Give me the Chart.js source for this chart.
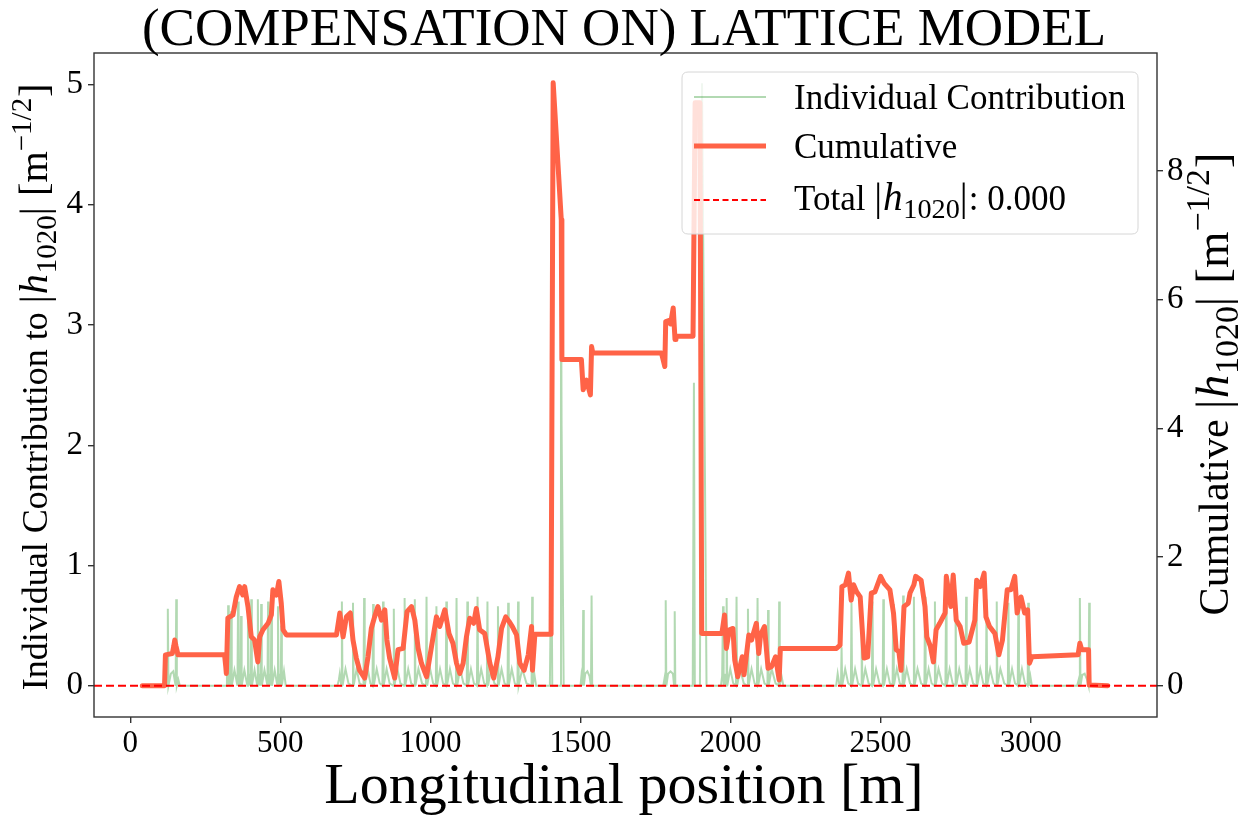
<!DOCTYPE html>
<html><head><meta charset="utf-8">
<script src="https://cdn.jsdelivr.net/npm/chart.js@4.4.0/dist/chart.umd.min.js"></script>
<style>html,body{margin:0;padding:0;background:#fff;overflow:hidden}</style>
</head><body>
<canvas id="c" width="1238" height="815"></canvas>
<script>
const titleText = '(COMPENSATION ON) LATTICE MODEL';
const xLabelText = 'Longitudinal position [m]';
const xTicks = [0, 500, 1000, 1500, 2000, 2500, 3000];
const yLeftTicks = [0, 1, 2, 3, 4, 5];
const yRightTicks = [0, 2, 4, 6, 8];
const totalH = 0.000;

// Individual contribution (left axis)
const indivS = [
40,118,120,123,125,127,135,143,151,153,155,160,165,
320,322,324,326,328,331,334,336,338,347,357,359,361,364,367,369,371,380,390,392,394,398,401,403,405,414,423,425,427,431,434,436,438,447,457,459,461,465,468,470,472,481,490,492,494,498,501,503,505,512,518,
690,695,698,703,705,707,717,727,740,742,744,754,764,777,779,781,791,800,807,809,811,821,831,840,842,844,854,864,876,878,880,890,900,912,914,916,926,936,946,948,950,960,972,985,987,989,999,1009,1018,1020,1022,1032,1042,1051,1053,1055,1065,1075,1085,1087,1089,1099,1110,1121,1123,1125,1135,1145,1155,1157,1159,1169,1179,1188,1190,1192,1202,1213,1223,1225,1227,1237,1247,1257,1259,1261,1271,1281,1290,1292,1294,1306,1320,1337,1339,1341,1346,1352,
1398,1403,1406,1432,1435,1437,1444,1500,1503,1507,1509,1511,1516,1523,1530,1535,1537,1539,1545,
1776,1780,1782,1784,1786,1792,1800,1808,1812,1814,1816,1822,1874,1878,1881,1898,1905,1920,
1968,1972,1975,1977,1983,1985,1987,1989,1999,2009,2018,2020,2022,2032,2044,2056,2058,2060,2070,2080,2088,2090,2092,2102,2113,2123,2125,2127,2137,2150,2160,2162,2164,2170,2176,
2352,2357,2362,2368,2370,2372,2382,2392,2401,2403,2405,2415,2425,2435,2437,2439,2449,2460,2471,2473,2475,2485,2496,2507,2509,2511,2521,2531,2540,2542,2544,2554,2564,2573,2575,2577,2587,2598,2609,2611,2613,2623,2635,2646,2648,2650,2660,2670,2679,2681,2683,2693,2705,2716,2718,2720,2730,2740,2748,2750,2752,2762,2773,2783,2785,2787,2797,2808,2818,2820,2822,2832,2842,2851,2853,2855,2865,2876,2885,2887,2889,2899,2912,2924,2926,2928,2938,2948,2957,2959,2961,2971,2981,2990,2992,2994,2999,3004,
3155,3160,3162,3164,3166,3172,3180,3188,3193,3195,3197,3205,3257
];
const indivVal = [
0,0,0.10,0,0.64,0,0.10,0.12,0,0.72,0,0.05,0,
0,0.10,0,0.67,0,0.10,0,0.62,0,0.13,0,0.70,0,0.10,0,0.58,0,0.13,0,0.74,0,0.10,0,0.72,0,0.13,0,0.72,0,0.10,0,0.68,0,0.13,0,0.70,0,0.10,0,0.66,0,0.13,0,0.66,0,0.10,0,0.50,0,0.12,0,
0,0.05,0.10,0,0.70,0,0.14,0.02,0,0.69,0,0.14,0.02,0,0.73,0,0.14,0.02,0,0.68,0,0.14,0.02,0,0.70,0,0.14,0.02,0,0.64,0,0.14,0.02,0,0.73,0,0.14,0.02,0,0.72,0,0.14,0.02,0,0.74,0,0.14,0.02,0,0.66,0,0.14,0.02,0,0.70,0,0.14,0.02,0,0.73,0,0.14,0.02,0,0.70,0,0.14,0.02,0,0.74,0,0.14,0.02,0,0.70,0,0.14,0.02,0,0.66,0,0.14,0.02,0,0.69,0,0.14,0.02,0,0.70,0,0.14,0.02,0,0.74,0,0.10,0,
0,1.20,0,0,3.80,2.17,0,0,0.08,0,0.63,0,0.10,0.12,0.08,0,0.75,0,0,
0,0.06,0,0.71,0,0.10,0.12,0.10,0,0.62,0,0,0,2.52,0,0,5.01,0,
0,0.08,0.66,0,0.10,0,0.73,0,0.14,0.02,0,0.74,0,0.14,0.02,0,0.64,0,0.14,0.02,0,0.73,0,0.14,0.02,0,0.63,0,0.14,0.02,0,0.70,0,0.08,0,
0,0.10,0.02,0,0.32,0,0.14,0.02,0,0.69,0,0.14,0.02,0,0.68,0,0.14,0.02,0,0.70,0,0.14,0.02,0,0.72,0,0.14,0.02,0,0.68,0,0.14,0.02,0,0.75,0,0.14,0.02,0,0.74,0,0.14,0.02,0,0.74,0,0.14,0.02,0,0.70,0,0.14,0.02,0,0.69,0,0.14,0.02,0,0.71,0,0.14,0.02,0,0.74,0,0.14,0.02,0,0.69,0,0.14,0.02,0,0.72,0,0.14,0.02,0,0.70,0,0.14,0.02,0,0.69,0,0.14,0.02,0,0.66,0,0.14,0.02,0,0.69,0,0.08,0,
0,0.05,0,0.73,0,0.09,0.10,0.05,0,0.69,0,0,0
];

// Cumulative (right axis)
const cumS = [
40,114,117,140,145,148,152,159,314,318,320,325,342,353,364,375,381,392,403,414,425,431,442,459,470,475,487,495,503,509,520,
687,698,709,720,733,742,753,764,781,792,803,814,825,837,848,855,864,881,892,909,922,937,948,959,970,987,998,1020,1031,1048,1062,1075,1087,1098,1109,1120,1131,1144,1153,1164,1181,1198,1211,1225,1237,1251,1262,1273,1287,1298,1312,1326,1337,1340,1348,
1402,1409,1436,1438,1503,1509,1520,1533,1537,1541,1770,1781,1784,1798,1800,1809,1815,1818,1875,1882,1898,1904,
1971,1980,1986,1996,2008,2014,2024,2039,2045,2061,2070,2086,2094,2100,2113,2125,2137,2150,2162,2166,
2353,2365,2371,2383,2393,2402,2410,2420,2432,2445,2457,2469,2481,2500,2512,2531,2543,2552,2561,2568,2578,2592,2598,2611,2617,2635,2648,2654,2666,2676,2685,2697,2715,2719,2734,2742,2752,2765,2777,2795,2814,2820,2832,2845,2851,2863,2881,2894,2906,2922,2934,2947,2955,2968,2980,2990,2996,3004,
3158,3164,3170,3193,3195,3257
];
const cumVal = [
0,0,0.48,0.50,0.62,0.71,0.62,0.48,0.48,0.30,0.19,1.05,1.10,1.38,1.54,1.41,1.54,1.23,0.76,0.71,0.37,0.76,0.87,0.97,1.10,1.49,1.41,1.62,1.28,0.87,0.79,
0.79,1.13,0.76,1.07,1.13,0.71,0.43,0.24,0.12,0.45,0.89,1.07,1.23,1.02,1.18,0.71,0.43,0.12,0.56,0.58,1.15,1.23,1.02,0.58,0.35,0.14,0.45,1.07,0.92,1.18,0.81,0.66,0.35,0.19,0.35,0.76,1.05,0.97,1.20,0.87,0.81,0.35,0.12,0.45,0.89,1.07,1.00,0.92,0.79,0.35,0.24,0.48,0.92,0.24,0.80,
0.80,9.37,7.24,5.07,5.07,4.60,4.75,4.52,5.27,5.17,5.17,4.96,5.66,5.68,5.62,5.87,5.38,5.43,5.43,9.06,9.06,0.81,
0.81,1.10,0.58,0.87,0.89,0.40,0.14,0.45,0.17,0.79,0.71,0.97,0.50,0.79,0.92,0.27,0.30,0.45,0.09,0.58,
0.58,0.63,1.54,1.57,1.75,1.33,1.57,1.46,1.38,0.43,0.45,1.44,1.46,1.70,1.59,1.49,1.13,0.56,0.53,0.24,1.23,1.28,1.44,1.57,1.70,1.64,1.23,0.76,0.61,0.37,0.87,0.97,1.13,1.70,1.23,1.72,1.02,0.92,0.66,0.68,1.02,1.64,1.54,1.75,1.07,0.92,0.81,0.48,0.71,1.49,1.49,1.70,1.13,1.38,1.13,1.18,0.35,0.45,
0.48,0.66,0.56,0.56,0.01,0
];

const X_MIN = -121, X_MAX = 3421;
const YL_MIN = -0.26, YL_MAX = 5.262;
const YR_MIN = -0.486, YR_MAX = 9.833;

const SERIF = '"Liberation Serif", "Times New Roman", serif';
const GREEN = 'rgba(0,128,0,0.3)';
const TOMATO = '#ff6347';
const RED = '#ff0000';
const MATH = 1.12;

function segSize(seg, size) {
  let s = seg.m ? size * MATH : size;
  if (seg.sub || seg.sup) s *= 0.72;
  return s;
}
function segFont(seg, size) {
  return (seg.it ? 'italic ' : '') + segSize(seg, size).toFixed(2) + 'px ' + SERIF;
}
function segAdvance(ctx, seg, size) {
  return ctx.measureText(seg.t).width + (seg.pad || 0) * size;
}
function richWidth(ctx, segs, size) {
  let w = 0;
  for (const s of segs) { ctx.font = segFont(s, size); w += segAdvance(ctx, s, size); }
  return w;
}
function drawRich(ctx, segs, size, x, y, align, rot) {
  ctx.save();
  ctx.translate(x, y);
  if (rot) ctx.rotate(rot);
  ctx.textBaseline = 'alphabetic';
  ctx.textAlign = 'left';
  ctx.fillStyle = '#000';
  const w = richWidth(ctx, segs, size);
  let cx = align === 'center' ? -w / 2 : (align === 'right' ? -w : 0);
  for (const s of segs) {
    ctx.font = segFont(s, size);
    const dy = s.sub ? size * 0.24 : (s.sup ? -size * 0.45 : 0);
    ctx.fillText(s.t, cx, dy);
    cx += segAdvance(ctx, s, size);
  }
  ctx.restore();
}
const hSegs = [{t:'|', m:1, pad:0.03},{t:'h', it:1, m:1, pad:0.02},{t:'1020', sub:1, m:1},{t:'|', m:1, pad:0.03}];
const unitSegs = [{t:' [', m:1},{t:'m', m:1},{t:'\u22121/2', sup:1, m:1, pad:0.02},{t:']', m:1}];
const leftTitle = [{t:'Individual Contribution to '}].concat(hSegs, unitSegs);
const rightTitle = [{t:'Cumulative '}].concat(hSegs, unitSegs);
const legendItems = [
  {segs:[{t:'Individual Contribution'}], color: GREEN, width: 2, dash: []},
  {segs:[{t:'Cumulative'}], color: TOMATO, width: 5, dash: []},
  {segs:[{t:'Total '}].concat(hSegs, [{t:': ' + totalH.toFixed(3)}]), color: RED, width: 2, dash: [6, 3.5]}
];

const deco = {
  id: 'deco',
  afterDatasetsDraw(chart) {
    const ctx = chart.ctx, a = chart.chartArea;
    ctx.save();
    ctx.strokeStyle = '#333';
    ctx.lineWidth = 1.4;
    ctx.strokeRect(a.left, a.top, a.right - a.left, a.bottom - a.top);
    // legend box
    const bx = 682, by = 72, bw = 456, bh = 162, r = 6;
    ctx.beginPath();
    ctx.moveTo(bx + r, by);
    ctx.lineTo(bx + bw - r, by); ctx.quadraticCurveTo(bx + bw, by, bx + bw, by + r);
    ctx.lineTo(bx + bw, by + bh - r); ctx.quadraticCurveTo(bx + bw, by + bh, bx + bw - r, by + bh);
    ctx.lineTo(bx + r, by + bh); ctx.quadraticCurveTo(bx, by + bh, bx, by + bh - r);
    ctx.lineTo(bx, by + r); ctx.quadraticCurveTo(bx, by, bx + r, by);
    ctx.closePath();
    ctx.fillStyle = 'rgba(255,255,255,0.8)';
    ctx.fill();
    ctx.strokeStyle = '#d6d6d6';
    ctx.lineWidth = 1;
    ctx.stroke();
    const rowY = [97, 146, 200];
    const txtY = [109, 158, 210];
    legendItems.forEach((it, i) => {
      ctx.save();
      ctx.strokeStyle = it.color;
      ctx.lineWidth = it.width;
      ctx.setLineDash(it.dash);
      ctx.lineCap = 'butt';
      ctx.beginPath();
      ctx.moveTo(694, rowY[i]);
      ctx.lineTo(766, rowY[i]);
      ctx.stroke();
      ctx.restore();
      drawRich(ctx, it.segs, 35, 794, txtY[i], 'left', 0);
    });
    ctx.restore();
  },
  afterDraw(chart) {
    const ctx = chart.ctx, a = chart.chartArea;
    const cx = (a.left + a.right) / 2, cy = (a.top + a.bottom) / 2;
    drawRich(ctx, [{t: titleText}], 53, 624, 45, 'center', 0);
    drawRich(ctx, [{t: xLabelText}], 58, 624, 803, 'center', 0);
    drawRich(ctx, leftTitle, 36, 47, 387, 'center', -Math.PI / 2);
    drawRich(ctx, rightTitle, 42, 1228, 384, 'center', -Math.PI / 2);
  }
};

function pts(xs, ys) { return xs.map((x, i) => ({x: x, y: ys[i]})); }

const tickFontX = {family: SERIF, size: 31};
const tickFontY = {family: SERIF, size: 33};

new Chart(document.getElementById('c'), {
  type: 'line',
  data: {
    datasets: [
      {label: 'Total', data: [{x: X_MIN, y: totalH}, {x: X_MAX, y: totalH}], yAxisID: 'y2',
       borderColor: RED, borderWidth: 2.2, borderDash: [8, 4], pointRadius: 0, order: 1},
      {label: 'Cumulative', data: pts(cumS, cumVal), yAxisID: 'y2',
       borderColor: TOMATO, borderWidth: 5, pointRadius: 0, borderJoinStyle: 'round', borderCapStyle: 'round', order: 2},
      {label: 'Individual Contribution', data: pts(indivS, indivVal), yAxisID: 'y',
       borderColor: GREEN, borderWidth: 2, pointRadius: 0, borderJoinStyle: 'miter', order: 3}
    ]
  },
  options: {
    responsive: false,
    animation: false,
    parsing: false,
    layout: {padding: {top: 53, left: 0, right: 0, bottom: 0}},
    plugins: {legend: {display: false}, title: {display: false}, tooltip: {enabled: false}},
    elements: {line: {tension: 0}},
    scales: {
      x: {
        type: 'linear', min: X_MIN, max: X_MAX,
        afterBuildTicks: s => { s.ticks = xTicks.map(v => ({value: v})); },
        afterFit: s => { s.height = 98; },
        grid: {drawOnChartArea: false, drawTicks: true, tickLength: 6, color: '#333', lineWidth: 1.4},
        border: {display: false},
        ticks: {font: tickFontX, color: '#000', padding: 2, maxRotation: 0, autoSkip: false,
                callback: v => String(v)}
      },
      y: {
        type: 'linear', position: 'left', min: YL_MIN, max: YL_MAX,
        afterBuildTicks: s => { s.ticks = yLeftTicks.map(v => ({value: v})); },
        afterFit: s => { s.width = 94; },
        grid: {drawOnChartArea: false, drawTicks: true, tickLength: 6, color: '#333', lineWidth: 1.4},
        border: {display: false},
        ticks: {font: tickFontY, color: '#000', padding: 5, callback: v => String(v)}
      },
      y2: {
        type: 'linear', position: 'right', min: YR_MIN, max: YR_MAX,
        afterBuildTicks: s => { s.ticks = yRightTicks.map(v => ({value: v})); },
        afterFit: s => { s.width = 81; },
        grid: {drawOnChartArea: false, drawTicks: true, tickLength: 6, color: '#333', lineWidth: 1.4},
        border: {display: false},
        ticks: {font: tickFontY, color: '#000', padding: 4, callback: v => String(v)}
      }
    }
  },
  plugins: [deco]
});
</script>
</body></html>
